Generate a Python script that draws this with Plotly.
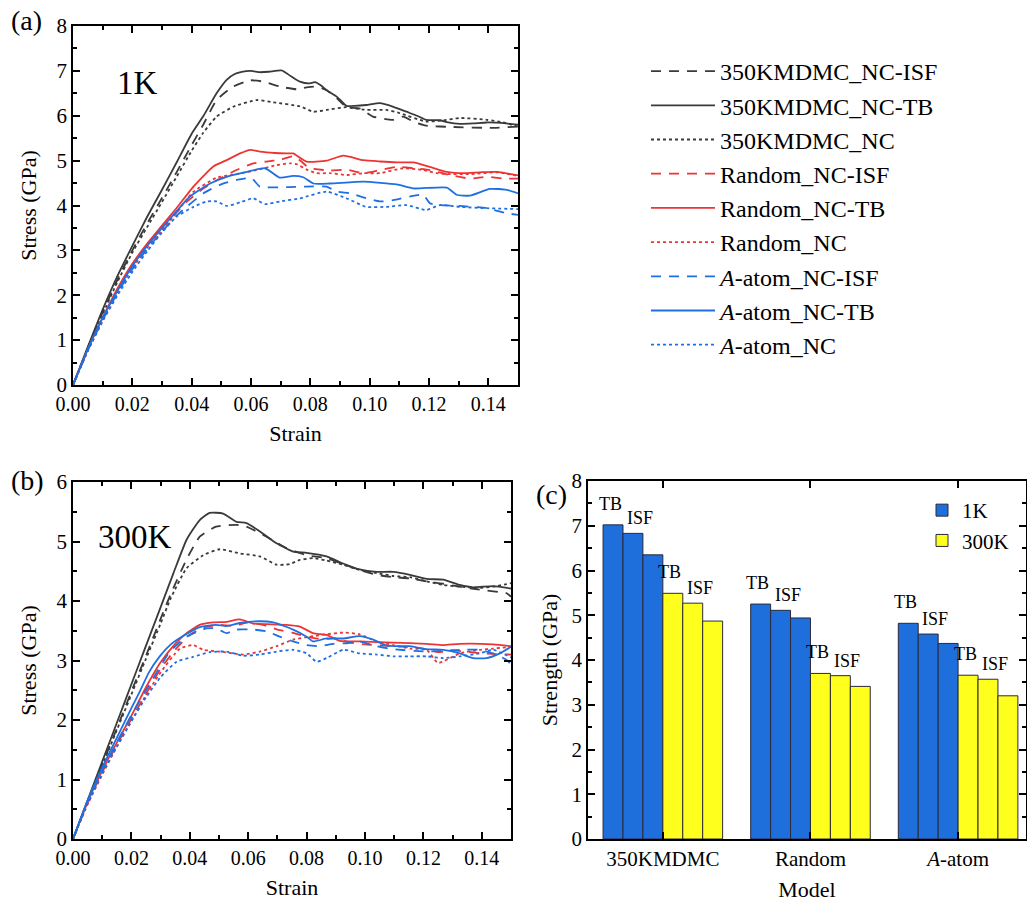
import plotly.graph_objects as go

# ---------------- Panel (a): 1K stress-strain ----------------
a_mdmc_isf_x = [0, 0.005, 0.01, 0.015, 0.02, 0.025, 0.03, 0.035, 0.04, 0.0439, 0.0484, 0.054, 0.0597, 0.0642, 0.0698, 0.0754, 0.0787, 0.082, 0.0855, 0.089, 0.0922, 0.0967, 0.1011, 0.108, 0.1113, 0.1147, 0.119, 0.128, 0.1416, 0.15]
a_mdmc_isf_y = [0, 0.83, 1.62, 2.35, 3.0, 3.6, 4.17, 4.75, 5.35, 5.8, 6.35, 6.65, 6.79, 6.76, 6.65, 6.59, 6.63, 6.65, 6.57, 6.39, 6.19, 6.16, 5.98, 5.91, 5.98, 5.87, 5.78, 5.75, 5.73, 5.76]
a_mdmc_tb_x = [0, 0.005, 0.01, 0.015, 0.02, 0.025, 0.03, 0.035, 0.04, 0.044, 0.0484, 0.0518, 0.0545, 0.0569, 0.06, 0.063, 0.066, 0.0703, 0.0735, 0.0765, 0.0795, 0.0816, 0.0835, 0.0855, 0.089, 0.0922, 0.095, 0.0989, 0.1034, 0.108, 0.1124, 0.116, 0.119, 0.1237, 0.126, 0.1304, 0.135, 0.1394, 0.146, 0.15]
a_mdmc_tb_y = [0, 0.85, 1.68, 2.43, 3.1, 3.75, 4.35, 4.97, 5.6, 6.0, 6.5, 6.8, 6.93, 6.98, 7.0, 6.97, 6.98, 7.01, 6.88, 6.76, 6.72, 6.75, 6.68, 6.57, 6.42, 6.22, 6.22, 6.24, 6.28, 6.2, 6.09, 6.0, 5.91, 5.9, 5.86, 5.82, 5.83, 5.85, 5.83, 5.8]
a_mdmc_nc_x = [0, 0.005, 0.01, 0.015, 0.02, 0.025, 0.03, 0.035, 0.04, 0.0439, 0.0484, 0.054, 0.0619, 0.0675, 0.0765, 0.081, 0.0855, 0.0922, 0.0989, 0.1056, 0.1101, 0.119, 0.125, 0.1304, 0.1394, 0.145, 0.15]
a_mdmc_nc_y = [0, 0.82, 1.58, 2.3, 2.95, 3.52, 4.08, 4.65, 5.22, 5.62, 5.98, 6.2, 6.35, 6.3, 6.21, 6.09, 6.13, 6.19, 6.13, 6.13, 6.06, 5.87, 5.9, 5.95, 5.91, 5.85, 5.76]

a_rnd_isf_x = [0, 0.005, 0.01, 0.015, 0.02, 0.025, 0.03, 0.035, 0.0383, 0.0439, 0.0495, 0.0551, 0.0608, 0.0652, 0.07, 0.0743, 0.077, 0.0795, 0.0866, 0.0923, 0.0979, 0.1035, 0.1091, 0.1147, 0.1203, 0.127, 0.1338, 0.1394, 0.1451, 0.15]
a_rnd_isf_y = [0, 0.78, 1.47, 2.1, 2.65, 3.1, 3.5, 3.85, 4.08, 4.38, 4.6, 4.79, 4.94, 4.98, 5.02, 5.1, 4.98, 4.84, 4.78, 4.8, 4.72, 4.79, 4.86, 4.83, 4.79, 4.68, 4.6, 4.64, 4.6, 4.6]
a_rnd_tb_x = [0, 0.005, 0.01, 0.015, 0.02, 0.025, 0.03, 0.035, 0.0406, 0.0473, 0.0518, 0.0563, 0.0597, 0.063, 0.068, 0.072, 0.0742, 0.0787, 0.0855, 0.0911, 0.0979, 0.1035, 0.1091, 0.1147, 0.1203, 0.126, 0.1316, 0.1372, 0.1428, 0.15]
a_rnd_tb_y = [0, 0.8, 1.5, 2.15, 2.7, 3.15, 3.55, 3.95, 4.42, 4.87, 5.01, 5.16, 5.24, 5.2, 5.17, 5.16, 5.16, 4.98, 5.0, 5.11, 5.01, 4.98, 4.96, 4.96, 4.86, 4.75, 4.72, 4.74, 4.75, 4.67]
a_rnd_nc_x = [0, 0.005, 0.01, 0.015, 0.02, 0.025, 0.03, 0.035, 0.0405, 0.0484, 0.0552, 0.0619, 0.0687, 0.0731, 0.0754, 0.0788, 0.0821, 0.0866, 0.0923, 0.0979, 0.1035, 0.1113, 0.118, 0.1226, 0.127, 0.1338, 0.1428, 0.15]
a_rnd_nc_y = [0, 0.76, 1.44, 2.05, 2.6, 3.05, 3.45, 3.85, 4.3, 4.62, 4.7, 4.79, 4.9, 4.94, 4.92, 4.8, 4.72, 4.72, 4.68, 4.72, 4.72, 4.83, 4.79, 4.72, 4.7, 4.7, 4.74, 4.66]

a_aat_isf_x = [0, 0.005, 0.01, 0.015, 0.02, 0.025, 0.03, 0.035, 0.0383, 0.0439, 0.0495, 0.0551, 0.0602, 0.063, 0.072, 0.0787, 0.0855, 0.089, 0.0934, 0.0989, 0.1034, 0.108, 0.1135, 0.118, 0.1203, 0.1237, 0.1304, 0.1394, 0.146, 0.15]
a_aat_isf_y = [0, 0.78, 1.45, 2.05, 2.58, 3.03, 3.42, 3.78, 3.97, 4.27, 4.46, 4.57, 4.61, 4.42, 4.41, 4.42, 4.42, 4.31, 4.27, 4.16, 4.09, 4.12, 4.2, 4.24, 4.05, 4.01, 3.99, 3.94, 3.83, 3.79]
a_aat_tb_x = [0, 0.005, 0.01, 0.015, 0.02, 0.025, 0.03, 0.035, 0.0394, 0.0462, 0.0518, 0.0574, 0.0647, 0.0697, 0.0742, 0.0776, 0.081, 0.0866, 0.0979, 0.1091, 0.1147, 0.126, 0.1293, 0.1338, 0.1405, 0.1462, 0.15]
a_aat_tb_y = [0, 0.8, 1.5, 2.1, 2.65, 3.1, 3.5, 3.88, 4.2, 4.49, 4.64, 4.73, 4.83, 4.62, 4.66, 4.63, 4.49, 4.49, 4.53, 4.47, 4.38, 4.4, 4.24, 4.22, 4.37, 4.35, 4.27]
a_aat_nc_x = [0, 0.005, 0.01, 0.015, 0.02, 0.025, 0.03, 0.0349, 0.0406, 0.045, 0.0484, 0.0518, 0.0563, 0.0608, 0.0647, 0.0697, 0.0765, 0.0855, 0.0922, 0.0989, 0.1056, 0.1124, 0.119, 0.1237, 0.1304, 0.1394, 0.15]
a_aat_nc_y = [0, 0.76, 1.42, 2.0, 2.52, 2.98, 3.4, 3.75, 3.97, 4.09, 4.09, 3.99, 4.07, 4.16, 4.03, 4.09, 4.16, 4.31, 4.16, 3.97, 3.97, 4.01, 3.9, 4.01, 3.97, 3.94, 3.92]

# ---------------- Panel (b): 300K stress-strain ----------------
b_mdmc_isf_x = [0, 0.005, 0.01, 0.016, 0.02, 0.025, 0.03, 0.0335, 0.0389, 0.0434, 0.049, 0.056, 0.0594, 0.0663, 0.0731, 0.08, 0.0868, 0.0925, 0.0982, 0.104, 0.1097, 0.1154, 0.1211, 0.1268, 0.1325, 0.1393, 0.1485, 0.15]
b_mdmc_isf_y = [0, 0.63, 1.25, 1.98, 2.48, 3.08, 3.7, 4.12, 4.7, 5.08, 5.25, 5.28, 5.25, 5.08, 4.89, 4.77, 4.72, 4.62, 4.52, 4.44, 4.4, 4.38, 4.33, 4.29, 4.24, 4.19, 4.13, 4.07]
b_mdmc_tb_x = [0, 0.005, 0.01, 0.016, 0.02, 0.024, 0.0295, 0.0345, 0.0389, 0.0434, 0.0468, 0.0514, 0.056, 0.0594, 0.064, 0.0697, 0.0754, 0.08, 0.0868, 0.0925, 0.0982, 0.104, 0.1097, 0.1154, 0.1211, 0.1268, 0.1325, 0.137, 0.1439, 0.15]
b_mdmc_tb_y = [0, 0.65, 1.3, 2.08, 2.6, 3.12, 3.83, 4.48, 5.03, 5.36, 5.48, 5.47, 5.33, 5.31, 5.17, 4.97, 4.83, 4.81, 4.75, 4.63, 4.53, 4.49, 4.49, 4.44, 4.37, 4.36, 4.27, 4.23, 4.25, 4.21]
b_mdmc_nc_x = [0, 0.005, 0.01, 0.016, 0.02, 0.025, 0.03, 0.0335, 0.0389, 0.0446, 0.0503, 0.0571, 0.064, 0.0697, 0.0742, 0.0777, 0.0822, 0.0868, 0.0925, 0.0982, 0.104, 0.1097, 0.1154, 0.1211, 0.1268, 0.1325, 0.1393, 0.1439, 0.15]
b_mdmc_nc_y = [0, 0.62, 1.23, 1.95, 2.43, 3.03, 3.62, 4.05, 4.55, 4.77, 4.87, 4.8, 4.75, 4.61, 4.62, 4.69, 4.72, 4.68, 4.61, 4.52, 4.47, 4.42, 4.4, 4.33, 4.27, 4.24, 4.22, 4.24, 4.3]

b_rnd_isf_x = [0, 0.005, 0.01, 0.015, 0.02, 0.025, 0.03, 0.035, 0.04, 0.045, 0.05, 0.055, 0.06, 0.065, 0.07, 0.075, 0.08, 0.085, 0.09, 0.095, 0.1, 0.11, 0.12, 0.125, 0.13, 0.14, 0.15]
b_rnd_isf_y = [0, 0.6, 1.12, 1.58, 2.02, 2.44, 2.86, 3.18, 3.43, 3.56, 3.6, 3.58, 3.64, 3.6, 3.52, 3.47, 3.4, 3.36, 3.37, 3.3, 3.27, 3.24, 3.2, 3.14, 3.17, 3.12, 3.1]
b_rnd_tb_x = [0, 0.005, 0.01, 0.015, 0.02, 0.025, 0.03, 0.035, 0.0389, 0.0434, 0.048, 0.0526, 0.0571, 0.0617, 0.0663, 0.0731, 0.0777, 0.0822, 0.0868, 0.0914, 0.0982, 0.1097, 0.1211, 0.1268, 0.1325, 0.1439, 0.15]
b_rnd_tb_y = [0, 0.62, 1.15, 1.62, 2.07, 2.55, 2.97, 3.28, 3.46, 3.6, 3.64, 3.65, 3.69, 3.62, 3.61, 3.6, 3.57, 3.46, 3.43, 3.33, 3.32, 3.3, 3.28, 3.26, 3.28, 3.27, 3.24]
b_rnd_nc_x = [0, 0.005, 0.01, 0.015, 0.02, 0.025, 0.03, 0.0366, 0.0411, 0.0446, 0.0503, 0.0583, 0.064, 0.0697, 0.0754, 0.0811, 0.0868, 0.0925, 0.0982, 0.104, 0.1097, 0.1154, 0.1211, 0.125, 0.1325, 0.1393, 0.1439, 0.15]
b_rnd_nc_y = [0, 0.58, 1.08, 1.55, 1.98, 2.42, 2.8, 3.2, 3.26, 3.18, 3.15, 3.1, 3.15, 3.24, 3.35, 3.4, 3.44, 3.47, 3.44, 3.32, 3.26, 3.2, 3.18, 2.96, 3.12, 3.18, 3.2, 3.23]

b_aat_isf_x = [0, 0.005, 0.01, 0.015, 0.02, 0.025, 0.0332, 0.0389, 0.0457, 0.049, 0.0526, 0.056, 0.0617, 0.0663, 0.0708, 0.0754, 0.08, 0.0845, 0.0891, 0.0937, 0.0982, 0.104, 0.1097, 0.1211, 0.1325, 0.1393, 0.1439, 0.1485, 0.15]
b_aat_isf_y = [0, 0.62, 1.15, 1.62, 2.08, 2.5, 3.15, 3.4, 3.54, 3.54, 3.46, 3.52, 3.52, 3.49, 3.4, 3.32, 3.26, 3.24, 3.28, 3.29, 3.32, 3.24, 3.19, 3.15, 3.18, 3.18, 3.12, 3.01, 2.93]
b_aat_tb_x = [0, 0.005, 0.01, 0.015, 0.02, 0.0229, 0.026, 0.0297, 0.0335, 0.0377, 0.0434, 0.049, 0.0526, 0.0571, 0.064, 0.0686, 0.0754, 0.08, 0.0822, 0.0868, 0.0925, 0.0982, 0.1028, 0.1074, 0.1154, 0.1211, 0.1268, 0.1325, 0.137, 0.1416, 0.1462, 0.15]
b_aat_tb_y = [0, 0.65, 1.2, 1.7, 2.2, 2.48, 2.8, 3.07, 3.27, 3.41, 3.56, 3.6, 3.58, 3.63, 3.66, 3.64, 3.52, 3.4, 3.32, 3.37, 3.37, 3.41, 3.35, 3.25, 3.24, 3.19, 3.18, 3.12, 3.04, 3.04, 3.12, 3.23]
b_aat_nc_x = [0, 0.005, 0.01, 0.015, 0.02, 0.025, 0.03, 0.0355, 0.0411, 0.0468, 0.0526, 0.0583, 0.064, 0.0697, 0.0754, 0.08, 0.0834, 0.0868, 0.0925, 0.0982, 0.104, 0.1097, 0.1154, 0.1211, 0.1268, 0.1325, 0.1393, 0.1439, 0.15]
b_aat_nc_y = [0, 0.6, 1.1, 1.55, 1.98, 2.38, 2.72, 2.98, 3.06, 3.14, 3.15, 3.08, 3.1, 3.15, 3.18, 3.12, 2.98, 3.04, 3.18, 3.12, 3.1, 3.07, 3.07, 3.07, 3.04, 3.07, 3.12, 3.18, 3.05]

# ---------------- Panel (c): strength bars ----------------
models = ["350KMDMC", "Random", "<i>A</i>-atom"]
s1k_tb = [7.02, 5.25, 4.82]
s1k_isf = [6.83, 5.11, 4.58]
s1k_nc = [6.35, 4.94, 4.37]
s300_tb = [5.49, 3.70, 3.66]
s300_isf = [5.27, 3.65, 3.57]
s300_nc = [4.87, 3.41, 3.20]

series_names = ["350KMDMC_NC-ISF", "350KMDMC_NC-TB", "350KMDMC_NC",
                "Random_NC-ISF", "Random_NC-TB", "Random_NC",
                "<i>A</i>-atom_NC-ISF", "<i>A</i>-atom_NC-TB", "<i>A</i>-atom_NC"]

BLACK = "#3a3a3a"
RED = "#ec3434"
BLUE = "#1f6fe4"
FONT = "Liberation Serif, Times New Roman, serif"

colors = [BLACK] * 3 + [RED] * 3 + [BLUE] * 3
dashes = ["10px,8px", "solid", "3px,3px"] * 3

a_data = [(a_mdmc_isf_x, a_mdmc_isf_y), (a_mdmc_tb_x, a_mdmc_tb_y), (a_mdmc_nc_x, a_mdmc_nc_y),
          (a_rnd_isf_x, a_rnd_isf_y), (a_rnd_tb_x, a_rnd_tb_y), (a_rnd_nc_x, a_rnd_nc_y),
          (a_aat_isf_x, a_aat_isf_y), (a_aat_tb_x, a_aat_tb_y), (a_aat_nc_x, a_aat_nc_y)]
b_data = [(b_mdmc_isf_x, b_mdmc_isf_y), (b_mdmc_tb_x, b_mdmc_tb_y), (b_mdmc_nc_x, b_mdmc_nc_y),
          (b_rnd_isf_x, b_rnd_isf_y), (b_rnd_tb_x, b_rnd_tb_y), (b_rnd_nc_x, b_rnd_nc_y),
          (b_aat_isf_x, b_aat_isf_y), (b_aat_tb_x, b_aat_tb_y), (b_aat_nc_x, b_aat_nc_y)]

fig = go.Figure()

for i, (xs, ys) in enumerate(a_data):
    fig.add_trace(go.Scatter(x=xs, y=ys, mode="lines", name=series_names[i],
                             line=dict(color=colors[i], width=1.8, dash=dashes[i],
                                       shape="spline", smoothing=0.5),
                             xaxis="x", yaxis="y", showlegend=True, legend="legend"))
for i, (xs, ys) in enumerate(b_data):
    fig.add_trace(go.Scatter(x=xs, y=ys, mode="lines", name=series_names[i],
                             line=dict(color=colors[i], width=1.8, dash=dashes[i],
                                       shape="spline", smoothing=0.5),
                             xaxis="x2", yaxis="y2", showlegend=False))

BAR_BLUE = "#1e6fdc"
BAR_YEL = "#ffff1e"
BARGAP = 0.19
bar_sets = [(s1k_tb, BAR_BLUE, "1K", True, "TB"), (s1k_isf, BAR_BLUE, "1K", False, "ISF"),
            (s1k_nc, BAR_BLUE, "1K", False, ""), (s300_tb, BAR_YEL, "300K", True, "TB"),
            (s300_isf, BAR_YEL, "300K", False, "ISF"), (s300_nc, BAR_YEL, "300K", False, "")]
annotations = []
nb = len(bar_sets)
bw = (1 - BARGAP) / nb
for k, (vals, col, nm, sl, lab) in enumerate(bar_sets):
    fig.add_trace(go.Bar(x=models, y=vals, name=nm, showlegend=sl, legend="legend2",
                         marker=dict(color=col, line=dict(color="#2a2a3a", width=1)),
                         xaxis="x3", yaxis="y3"))
    if lab:
        off = -(1 - BARGAP) / 2 + bw * (k + 0.5)
        for gi, v in enumerate(vals):
            annotations.append(dict(text=lab, x=gi + off, y=v, xref="x3", yref="y3",
                                    xanchor="center", yanchor="bottom",
                                    xshift=-3 if lab == "TB" else 7,
                                    yshift=9 if lab == "TB" else 3,
                                    showarrow=False,
                                    font=dict(size=18, family=FONT, color="black")))

W, H = 1027, 902


def dx(p):
    return p / W


def dy(p):
    return 1 - p / H


def axstyle(**kw):
    d = dict(showline=True, linecolor="black", linewidth=1.5, mirror="ticks",
             ticks="inside", ticklen=7, tickwidth=1.5, tickcolor="black",
             showgrid=False, zeroline=False, automargin=False,
             tickfont=dict(size=21, color="black", family=FONT),
             title_font=dict(size=22, color="black", family=FONT))
    d.update(kw)
    return d


minor = dict(ticks="inside", ticklen=4, tickwidth=1.5, tickcolor="black", showgrid=False)
xtickfont = dict(size=20, color="black", family=FONT)

for txt, px, py in [("(a)", 26, 20), ("(b)", 27, 481), ("(c)", 551, 494)]:
    annotations.append(dict(text=txt, x=dx(px), y=dy(py), xref="paper", yref="paper",
                            xanchor="center", yanchor="middle", showarrow=False,
                            font=dict(size=28, family=FONT, color="black")))
annotations.append(dict(text="1K", x=0.0219, y=6.73, xref="x", yref="y", showarrow=False,
                        xanchor="center", yanchor="middle",
                        font=dict(size=33, family=FONT, color="black")))
annotations.append(dict(text="300K", x=0.0211, y=5.08, xref="x2", yref="y2", showarrow=False,
                        xanchor="center", yanchor="middle",
                        font=dict(size=33, family=FONT, color="black")))

fig.update_layout(
    width=W, height=H, margin=dict(l=0, r=0, t=0, b=0),
    paper_bgcolor="white", plot_bgcolor="white",
    font=dict(family=FONT, color="black"),
    barmode="group", bargap=BARGAP, bargroupgap=0,
    xaxis=axstyle(domain=[dx(73), dx(518)], anchor="y", range=[0, 0.15], dtick=0.02, tick0=0,
                  tickformat=".2f", minor=dict(dtick=0.01, **minor), tickfont=xtickfont,
                  title=dict(text="Strain", standoff=12)),
    yaxis=axstyle(domain=[dy(385), dy(26)], anchor="x", range=[0, 8], dtick=1,
                  minor=dict(dtick=0.5, **minor),
                  title=dict(text="Stress (GPa)", standoff=14)),
    xaxis2=axstyle(domain=[dx(73), dx(511)], anchor="y2", range=[0, 0.15], dtick=0.02, tick0=0,
                   tickformat=".2f", minor=dict(dtick=0.01, **minor), tickfont=xtickfont,
                   title=dict(text="Strain", standoff=12)),
    yaxis2=axstyle(domain=[dy(839), dy(482)], anchor="x2", range=[0, 6], dtick=1,
                   minor=dict(dtick=0.5, **minor),
                   title=dict(text="Stress (GPa)", standoff=14)),
    xaxis3=axstyle(domain=[dx(588), dx(1026)], anchor="y3", range=[-0.507, 2.46],
                   title=dict(text="Model", standoff=12)),
    yaxis3=axstyle(domain=[dy(839), dy(481)], anchor="x3", range=[0, 8], dtick=1,
                   minor=dict(dtick=0.5, **minor),
                   title=dict(text="Strength (GPa)", standoff=8)),
    legend=dict(x=dx(646), y=dy(49), xanchor="left", yanchor="top",
                font=dict(size=24, color="black", family=FONT),
                bgcolor="rgba(0,0,0,0)", tracegroupgap=0, itemwidth=64, traceorder="normal"),
    legend2=dict(x=dx(922), y=dy(490), xanchor="left", yanchor="top",
                 font=dict(size=21, color="black", family=FONT),
                 bgcolor="rgba(0,0,0,0)", tracegroupgap=0, traceorder="normal"),
    annotations=annotations,
)

fig.write_html("out.html")
